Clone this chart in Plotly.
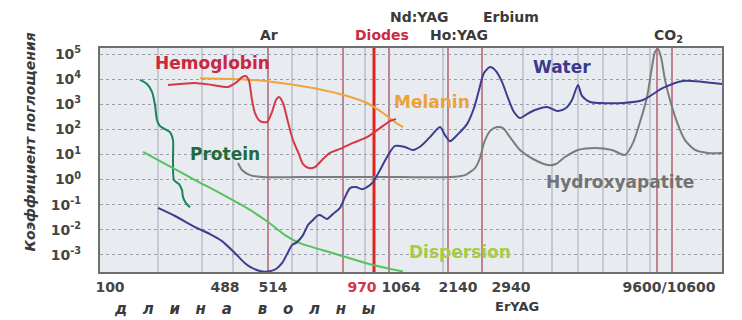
import plotly.graph_objects as go

# x positions are schematic (nonlinear wavelength scale), measured along the axis 0..622
# y values stored as log10 of absorption coefficient (1/cm)

protein_x = [40, 47, 52, 55, 57, 60, 65, 70, 73, 73, 74, 79, 82, 83, 86, 90]
protein_log = [3.97, 3.81, 3.49, 2.97, 2.37, 2.13, 2.01, 1.89, 1.57, 0.78, -0.02, -0.18, -0.42, -0.70, -0.94, -1.10]

dispersion_x = [43, 73, 95, 120, 150, 168, 185, 200, 233, 273, 303]
dispersion_log = [1.10, 0.46, -0.02, -0.54, -1.21, -1.69, -2.21, -2.53, -2.93, -3.40, -3.66]

water_x = [58, 75, 95, 110, 122, 135, 145, 152, 160, 168, 176, 182, 188, 192, 197, 203, 208, 213,
           217, 220, 227, 233, 240, 245, 250, 256, 262, 267, 273, 280, 287, 295, 305, 313, 321,
           330, 340, 345, 350, 358, 367, 374, 379, 384, 390, 396, 402, 408, 414, 420, 427, 435,
           447, 458, 466, 472, 478, 482, 490, 500, 523, 543, 563, 583, 603, 622]
water_log = [-1.13, -1.45, -1.89, -2.17, -2.45, -2.93, -3.33, -3.52, -3.64, -3.66, -3.56, -3.33,
             -2.89, -2.61, -2.49, -2.21, -1.81, -1.61, -1.45, -1.41, -1.57, -1.37, -1.13, -0.70,
             -0.34, -0.30, -0.38, -0.30, -0.10, 0.38, 0.90, 1.34, 1.30, 1.18, 1.34, 1.69, 2.09,
             1.77, 1.53, 1.81, 2.21, 2.85, 3.57, 4.24, 4.48, 4.32, 3.89, 3.25, 2.69, 2.45, 2.61,
             2.77, 2.89, 2.73, 2.85, 3.17, 3.77, 3.33, 3.09, 3.05, 3.05, 3.17, 3.65, 3.93, 3.89, 3.81]

hemoglobin_x = [68, 80, 95, 112, 128, 137, 142, 146, 149, 152, 155, 160, 167, 172, 176, 179, 183,
                188, 193, 198, 203, 209, 215, 222, 230, 240, 253, 267, 280, 290, 296]
hemoglobin_log = [3.77, 3.81, 3.85, 3.77, 3.69, 3.89, 4.08, 4.12, 3.93, 3.17, 2.65, 2.33, 2.29,
                  2.69, 3.17, 3.29, 3.05, 2.29, 1.57, 1.10, 0.62, 0.46, 0.50, 0.78, 1.06, 1.22,
                  1.46, 1.69, 2.05, 2.33, 2.41]

melanin_x = [100, 140, 173, 207, 240, 267, 283, 295, 303]
melanin_log = [4.04, 4.00, 3.89, 3.69, 3.41, 3.05, 2.65, 2.29, 2.09]

hydroxy_x = [138, 142, 150, 162, 200, 300, 350, 365, 375, 380, 384, 390, 397, 403, 410, 420, 435,
             448, 456, 465, 478, 495, 512, 525, 533, 540, 547, 552, 555, 558, 561, 565, 570, 577,
             585, 595, 608, 622]
hydroxy_log = [0.66, 0.38, 0.18, 0.10, 0.10, 0.10, 0.10, 0.18, 0.46, 0.86, 1.46, 1.93, 2.09, 2.05,
               1.69, 1.18, 0.78, 0.58, 0.62, 0.90, 1.18, 1.26, 1.18, 0.98, 1.46, 2.29, 3.29, 4.48,
               5.08, 5.20, 4.88, 3.97, 3.17, 2.29, 1.57, 1.18, 1.06, 1.06]

# axis labels
tick_pos = [10, 125, 173, 262, 301, 358, 411, 569]
tick_labels = ["100", "488", "514", '<span style="color:#d0384a">970</span>', "1064", "2140", "2940",
               "9600/10600"]
y_ticks = [1e-3, 1e-2, 1e-1, 1e0, 1e1, 1e2, 1e3, 1e4, 1e5]
y_labels = ["10<sup>-3</sup>", "10<sup>-2</sup>", "10<sup>-1</sup>", "10<sup>0</sup>", "10<sup>1</sup>",
            "10<sup>2</sup>", "10<sup>3</sup>", "10<sup>4</sup>", "10<sup>5</sup>"]

# guide lines
gray_guides = [58, 102, 133, 192, 217, 265, 343, 423, 452, 478, 503, 527, 550]
laser_lines = [168, 243, 289, 348, 382, 557, 572]
diode_line = 274

FONT = "DejaVu Sans"

fig = go.Figure()

series = [
    (protein_x, protein_log, "#17855a"),
    (dispersion_x, dispersion_log, "#56c25e"),
    (hydroxy_x, hydroxy_log, "#7c7c7c"),
    (melanin_x, melanin_log, "#f0a43a"),
    (hemoglobin_x, hemoglobin_log, "#d33a48"),
    (water_x, water_log, "#3d3d90"),
]
for xs, ls, col in series:
    fig.add_trace(go.Scatter(x=xs, y=[10 ** v for v in ls], mode="lines",
                             line=dict(color=col, width=2, shape="spline", smoothing=0.7),
                             hoverinfo="skip", showlegend=False))

shapes = []
for gx in gray_guides:
    shapes.append(dict(type="line", xref="x", yref="paper", x0=gx, x1=gx, y0=0, y1=1,
                       line=dict(color="#a6a9b4", width=1), layer="between"))
for lx in laser_lines:
    shapes.append(dict(type="line", xref="x", yref="paper", x0=lx, x1=lx, y0=0, y1=1,
                       line=dict(color="#b5606f", width=1.5), layer="between"))
shapes.append(dict(type="line", xref="x", yref="paper", x0=diode_line, x1=diode_line, y0=0, y1=1,
                   line=dict(color="#e3231f", width=3), layer="between"))

def ann(text, x, y, color, size, xref="x"):
    return dict(text=text, x=x, y=y, xref=xref, yref="paper", showarrow=False,
                font=dict(family=FONT, size=size, color=color), xanchor="center", yanchor="middle")

annotations = [
    ann("<b>Hemoglobin</b>", 112, 0.933, "#c9283e", 17),
    ann("<b>Melanin</b>", 332, 0.759, "#eba33a", 17),
    ann("<b>Protein</b>", 125, 0.527, "#1f6b3e", 17),
    ann("<b>Water</b>", 462, 0.915, "#3a3a8e", 17),
    ann("<b>Hydroxyapatite</b>", 520, 0.402, "#737373", 17),
    ann("<b>Dispersion</b>", 360, 0.089, "#a6cc44", 17),
    ann("<b>Nd:YAG</b>", 319, 1.138, "#3a3a3a", 14),
    ann("<b>Erbium</b>", 411, 1.138, "#3a3a3a", 14),
    ann("<b>Ar</b>", 169, 1.058, "#3a3a3a", 14),
    ann("<b>Diodes</b>", 282, 1.058, "#cc2a40", 14),
    ann("<b>Ho:YAG</b>", 359, 1.058, "#3a3a3a", 14),
    ann("<b>CO<sub>2</sub></b>", 568, 1.052, "#3a3a3a", 14),
    ann("<b>1/cm</b>", -2, 1.152, "#3a3a3a", 15),
    ann("<b>ErYAG</b>", 417, -0.152, "#3a3a3a", 13),
    ann("<b>nm</b>", 629, -0.112, "#3a3a3a", 12),
    ann("<b><i>д\u00a0\u00a0\u00a0л\u00a0\u00a0\u00a0и\u00a0\u00a0\u00a0н\u00a0\u00a0\u00a0а"
        "\u00a0\u00a0\u00a0\u00a0\u00a0в\u00a0\u00a0\u00a0о\u00a0\u00a0\u00a0л\u00a0\u00a0\u00a0н"
        "\u00a0\u00a0\u00a0ы</i></b>", 145, -0.163, "#3a3a3a", 15),
    dict(text="<b><i>Коэффициент поглощения</i></b>", x=-0.112, y=0.58, xref="paper", yref="paper",
         showarrow=False, textangle=-90, font=dict(family=FONT, size=14, color="#3a3a3a"),
         xanchor="center", yanchor="middle"),
]

fig.update_layout(
    width=742, height=320,
    margin=dict(l=100, r=20, t=48, b=48),
    paper_bgcolor="white", plot_bgcolor="#e8ebf0",
    shapes=shapes, annotations=annotations,
    xaxis=dict(range=[0, 622], showgrid=False, zeroline=False, showline=True, mirror=True,
               linecolor="#707070", linewidth=2, tickmode="array", tickvals=tick_pos,
               ticktext=tick_labels, ticks="outside", ticklen=1, tickcolor="rgba(0,0,0,0)",
               tickfont=dict(family=FONT, size=14, color="#454545", weight="bold")),
    yaxis=dict(type="log", range=[-3.68, 5.24], tickmode="array", tickvals=y_ticks,
               ticktext=y_labels, showgrid=True, gridcolor="#9a9cb0", griddash="dot", gridwidth=1,
               zeroline=False, showline=True, mirror=True, linecolor="#707070", linewidth=2,
               ticks="outside", ticklen=14, tickcolor="rgba(0,0,0,0)",
               tickfont=dict(family=FONT, size=14, color="#454545", weight="bold")),
)

fig.write_html("out.html")
